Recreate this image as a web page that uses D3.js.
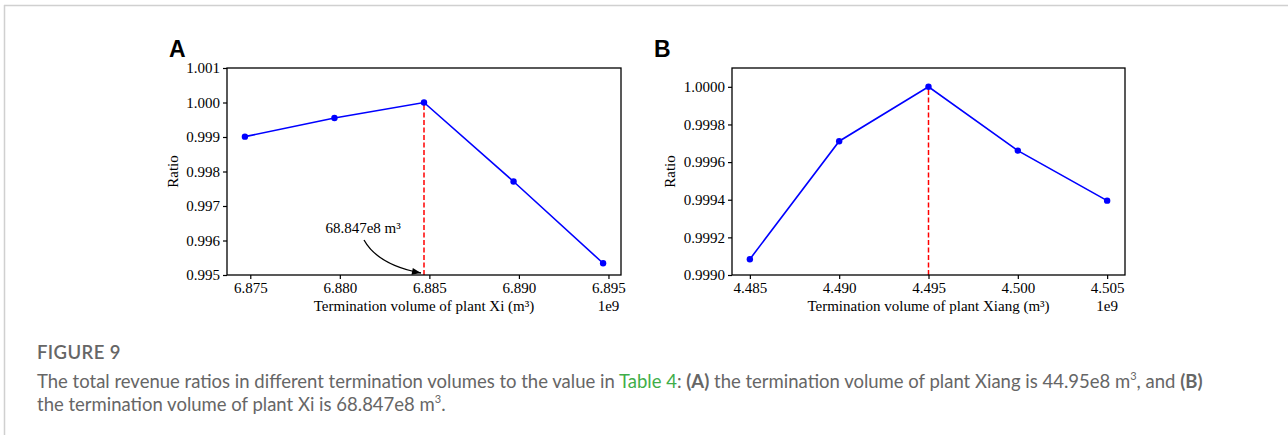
<!DOCTYPE html>
<html lang="en">
<head>
<meta charset="utf-8">
<script src="https://d3js.org/d3.v7.min.js"></script>
<style>
  body { margin: 0; background: #fff; }
  .tick text { font-family: "Liberation Serif", serif; font-size: 15px; fill: #000; }
  .lab { font-family: "Liberation Serif", serif; font-size: 15px; fill: #000; }
  .cap { font-family: Lato, "Open Sans", sans-serif; fill: #666; }
</style>
</head>
<body>
<svg id="main" width="1288" height="435"></svg>
<script>
// panel A: plant Xi
const xiVolumes = [6.8747, 6.8797, 6.8847, 6.8897, 6.8947];
const xiRatios = [0.99901, 0.99955, 1.0, 0.99771, 0.99534];
const xiTicksX = [6.875, 6.880, 6.885, 6.890, 6.895];
const xiTicksY = [0.995, 0.996, 0.997, 0.998, 0.999, 1.000, 1.001];
const xiOpt = 6.8847;

// panel B: plant Xiang
const xiangVolumes = [4.485, 4.490, 4.495, 4.500, 4.505];
const xiangRatios = [0.999084, 0.999711, 1.0, 0.999661, 0.999395];
const xiangTicksX = [4.485, 4.490, 4.495, 4.500, 4.505];
const xiangTicksY = [0.9990, 0.9992, 0.9994, 0.9996, 0.9998, 1.0000];
const xiangOpt = 4.495;

const svg = d3.select('svg#main');

// page frame
svg.append('line').attr('x1', 4).attr('x2', 1288).attr('y1', 5.5).attr('y2', 5.5)
  .attr('stroke', '#d0d0d0').attr('stroke-width', 1.5);
svg.append('line').attr('x1', 4.5).attr('x2', 4.5).attr('y1', 5).attr('y2', 435)
  .attr('stroke', '#d0d0d0').attr('stroke-width', 1.5);

function panel(cfg) {
  const x = d3.scaleLinear().domain(cfg.xDomain).range([cfg.left, cfg.right]);
  const y = d3.scaleLinear().domain(cfg.yDomain).range([cfg.bottom, cfg.top]);
  const g = svg.append('g');

  g.append('g').attr('transform', `translate(0,${cfg.bottom})`)
    .call(d3.axisBottom(x).tickValues(cfg.ticksX).tickFormat(d3.format('.3f')).tickSizeOuter(0).tickSize(4).tickPadding(3))
    .call(a => a.select('.domain').remove());
  g.append('g').attr('transform', `translate(${cfg.left},0)`)
    .call(d3.axisLeft(y).tickValues(cfg.ticksY).tickFormat(d3.format(cfg.yFmt)).tickSizeOuter(0).tickSize(4).tickPadding(3))
    .call(a => a.select('.domain').remove());
  g.selectAll('.tick line').attr('stroke', '#000').attr('stroke-width', 1.2);

  // red dashed marker at the optimum
  g.append('line')
    .attr('x1', x(cfg.opt)).attr('x2', x(cfg.opt))
    .attr('y1', y(cfg.yDomain[0])).attr('y2', y(1.0))
    .attr('stroke', '#ff0000').attr('stroke-width', 1.5).attr('stroke-dasharray', '5,2.5');

  const pts = cfg.xs.map((v, i) => [v, cfg.ys[i]]);
  g.append('path').datum(pts)
    .attr('fill', 'none').attr('stroke', '#0000ff').attr('stroke-width', 1.6)
    .attr('d', d3.line().x(d => x(d[0])).y(d => y(d[1])));
  g.selectAll('circle.pt').data(pts).enter().append('circle')
    .attr('cx', d => x(d[0])).attr('cy', d => y(d[1])).attr('r', 3.2).attr('fill', '#0000ff');

  // frame
  g.append('rect').attr('x', cfg.left).attr('y', cfg.top)
    .attr('width', cfg.right - cfg.left).attr('height', cfg.bottom - cfg.top)
    .attr('fill', 'none').attr('stroke', '#000').attr('stroke-width', 1.3);

  g.append('text').attr('class', 'lab').attr('text-anchor', 'middle')
    .attr('x', (cfg.left + cfg.right) / 2 + cfg.xLabShift).attr('y', 311).text(cfg.xLabel);
  g.append('text').attr('class', 'lab').attr('text-anchor', 'middle')
    .attr('x', x(cfg.ticksX[cfg.ticksX.length - 1])).attr('y', 311).text('1e9');
  g.append('text').attr('class', 'lab').attr('text-anchor', 'middle')
    .attr('transform', `translate(${cfg.yLabX},${(cfg.top + cfg.bottom) / 2}) rotate(-90)`).text('Ratio');
  g.append('text').attr('x', cfg.letterX).attr('y', 57)
    .attr('font-family', 'Liberation Sans, Arial, sans-serif').attr('font-weight', 'bold')
    .attr('font-size', 23).text(cfg.letter);
  return { g, x, y };
}

const A = panel({
  left: 227, right: 621, top: 68, bottom: 275,
  xDomain: [6.8737, 6.8957], yDomain: [0.995, 1.001],
  ticksX: xiTicksX, ticksY: xiTicksY, yFmt: '.3f',
  xs: xiVolumes, ys: xiRatios, opt: xiOpt,
  xLabel: 'Termination volume of plant Xi (m\u00b3)', xLabShift: 0,
  yLabX: 178, letter: 'A', letterX: 169
});

// annotation with curved arrow
const ax0 = 364, ay0 = 240;
const ax1 = A.x(xiOpt) - 3, ay1 = A.y(0.995) - 2;
A.g.append('text').attr('class', 'lab').attr('text-anchor', 'middle')
  .attr('x', A.x(6.8813)).attr('y', A.y(0.99623)).text('68.847e8 m\u00b3');
A.g.append('path')
  .attr('d', `M${ax0},${ay0} Q${ax0 + 14},${ay1 - 8} ${ax1},${ay1}`)
  .attr('fill', 'none').attr('stroke', '#000').attr('stroke-width', 1.3);
const ang = Math.atan2(ay1 - (ay1 - 8), ax1 - (ax0 + 14));
const hl = 9, hw = 3.5;
A.g.append('path')
  .attr('d', `M${ax1},${ay1} L${ax1 - hl * Math.cos(ang) + hw * Math.sin(ang)},${ay1 - hl * Math.sin(ang) - hw * Math.cos(ang)} L${ax1 - hl * Math.cos(ang) - hw * Math.sin(ang)},${ay1 - hl * Math.sin(ang) + hw * Math.cos(ang)} Z`)
  .attr('fill', '#000');

panel({
  left: 732, right: 1125, top: 68, bottom: 275,
  xDomain: [4.484, 4.506], yDomain: [0.9990, 1.0001],
  ticksX: xiangTicksX, ticksY: xiangTicksY, yFmt: '.4f',
  xs: xiangVolumes, ys: xiangRatios, opt: xiangOpt,
  xLabel: 'Termination volume of plant Xiang (m\u00b3)', xLabShift: 0,
  yLabX: 675, letter: 'B', letterX: 654
});

// caption
const cap = svg.append('g').attr('class', 'cap');
cap.append('text').attr('x', 37).attr('y', 359).attr('font-size', 18.5).attr('font-weight', 600)
  .attr('letter-spacing', 0.4).text('FIGURE 9');
const l1 = cap.append('text').attr('x', 37).attr('y', 388).attr('font-size', 18.5);
l1.append('tspan').text('The total revenue ratios in different termination volumes to the value in ');
l1.append('tspan').attr('fill', '#3fae49').text('Table 4');
l1.append('tspan').text(': ');
l1.append('tspan').attr('font-weight', 'bold').text('(A)');
l1.append('tspan').text(' the termination volume of plant Xiang is 44.95e8 m');
l1.append('tspan').attr('font-size', 11).attr('dy', -8).text('3');
l1.append('tspan').attr('dy', 8).text(', and ');
l1.append('tspan').attr('font-weight', 'bold').text('(B)');
const l2 = cap.append('text').attr('x', 37).attr('y', 411).attr('font-size', 18.5);
l2.append('tspan').text('the termination volume of plant Xi is 68.847e8 m');
l2.append('tspan').attr('font-size', 11).attr('dy', -8).text('3');
l2.append('tspan').attr('dy', 8).text('.');
</script>
</body>
</html>
